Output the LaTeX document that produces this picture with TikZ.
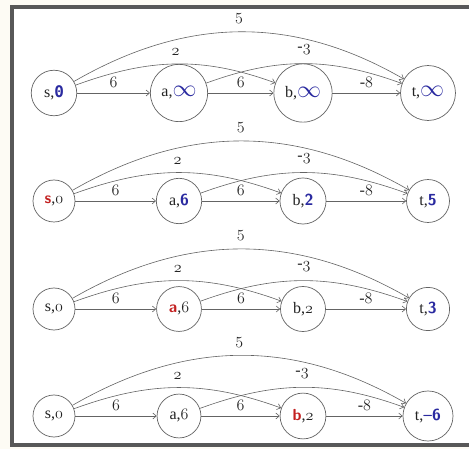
\RequirePackage{fix-cm}
\documentclass[tikz,border=0pt]{standalone}
\usepackage{fontspec}
\usepackage{graphicx}
\setmainfont{Liberation Serif}
\newfontfamily\monofnt{DejaVu Sans Mono}
\usetikzlibrary{arrows.meta}
\definecolor{bgcream}{RGB}{253,251,244}
\definecolor{framegrey}{RGB}{88,88,88}
\definecolor{valblue}{RGB}{42,42,160}
\definecolor{valred}{RGB}{195,32,32}
\definecolor{edgegrey}{RGB}{100,100,100}
\definecolor{txtgrey}{RGB}{35,35,35}
\tikzset{
  vertex/.style={circle, draw=edgegrey, line width=0.7pt, minimum size=42pt,
    inner sep=7.5pt, font=\fontsize{16}{19}\selectfont, text=txtgrey, fill=white},
  edge/.style={draw=edgegrey, line width=0.6pt, -{Straight Barb[length=3.5pt,width=6pt]}},
  wlabel/.style={font=\fontsize{16}{19}\selectfont, text=txtgrey, inner sep=0pt},
}
\newcommand\inft{\textcolor{valblue}{\scalebox{1.5}{$\infty$}}}
\newcommand\bval[1]{\textcolor{valblue}{\sffamily\bfseries #1}}
\newcommand\rlet[1]{\textcolor{valred}{\sffamily\bfseries #1}}
\newcommand\osn[1]{\ensuremath{\mathnormal{#1}}}
\newcommand\graphrow[6]{%
  \node[vertex] (s#1) at (54,#2) {#3};
  \node[vertex] (a#1) at (179,#2) {#4};
  \node[vertex] (b#1) at (303,#2) {#5};
  \node[vertex] (t#1) at (428,#2) {#6};
  \draw[edge] (s#1) -- node[wlabel, midway, yshift=11pt]{\osn{6}} (a#1);
  \draw[edge] (a#1) -- node[wlabel, midway, yshift=11pt]{\osn{6}} (b#1);
  \draw[edge] (b#1) -- node[wlabel, midway, yshift=11pt]{-\osn{8}} (t#1);
  \draw[edge] (s#1) to[out=20,in=160] node[wlabel, midway, yshift=12pt]{\osn{2}} (b#1);
  \draw[edge] (a#1) to[out=20,in=160] node[wlabel, midway, yshift=14pt]{-\osn{3}} (t#1);
  \draw[edge] (s#1) to[out=30,in=150] node[wlabel, midway, yshift=13pt]{\osn{5}} (t#1);
}
\begin{document}
\begin{tikzpicture}[x=1pt,y=-1pt]
  \useasboundingbox (0,0) rectangle (469,449);
  \fill[bgcream] (0,0) rectangle (469,449);
  \fill[white] (12,7) rectangle (469,445);
  \draw[framegrey, line width=4pt] (471,7) -- (12,7) -- (12,445) -- (471,445);
  \graphrow{1}{93}{s,\bval{\monofnt 0}}{a,\inft}{b,\inft}{t,\inft}
  \graphrow{2}{201}{\rlet{s},\osn{0}}{a,\bval{6}}{b,\bval{2}}{t,\bval{5}}
  \graphrow{3}{309}{s,\osn{0}}{\rlet{a},\osn{6}}{b,\osn{2}}{t,\bval{3}}
  \graphrow{4}{416}{s,\osn{0}}{a,\osn{6}}{\rlet{b},\osn{2}}{t,\bval{\textendash6}}
\end{tikzpicture}
\end{document}
